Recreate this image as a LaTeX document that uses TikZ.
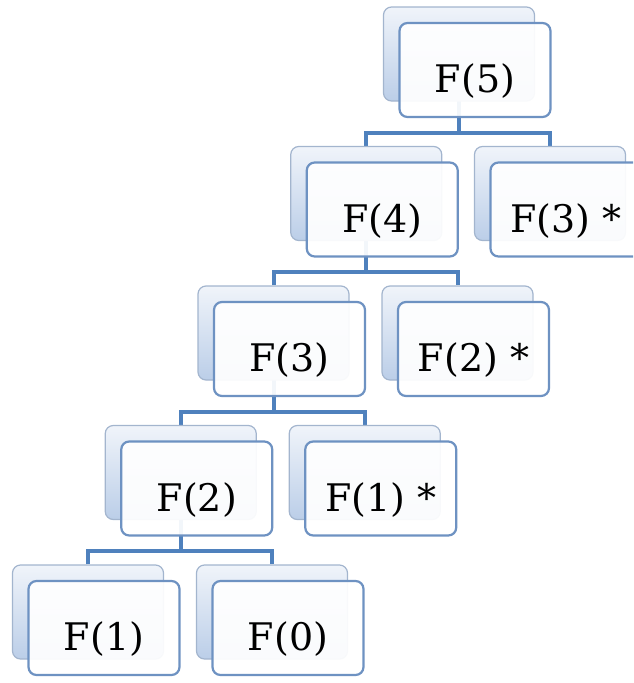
\documentclass[tikz,border=0pt]{standalone}
\usepackage{fontspec}
\setmainfont{DejaVu Serif}
\usetikzlibrary{calc}
\pgfdeclarelayer{links}
\pgfsetlayers{links,main}
\definecolor{linkblue}{HTML}{4F81BD}
\definecolor{frontline}{HTML}{6E92C2}
\definecolor{backline}{HTML}{A3B5CE}
\definecolor{backtop}{HTML}{F0F4FA}
\definecolor{backbot}{HTML}{BBCEE8}
\begin{document}
\begin{tikzpicture}[x=1pt,y=-1pt,
  backbox/.style={draw=backline, line width=1.2pt, rounded corners=8pt,
    top color=backtop, bottom color=backbot,
    minimum width=151pt, minimum height=94pt, inner sep=0pt},
  frontbox/.style={draw=frontline, line width=2.2pt, rounded corners=8pt,
    fill=white, fill opacity=0.93,
    minimum width=151pt, minimum height=94pt, inner sep=0pt},
  fibtext/.style={font=\fontsize{38}{46}\selectfont, anchor=base, inner sep=0pt},
  link/.style={draw=linkblue, line width=4pt, line join=miter},
  fib/.pic={
    \node[backbox] (-back) at (0,0) {};
    \node[frontbox] (-front) at (16,16) {};
    \node[fibtext] (-text) at (16,38.5) {#1};
  }]
\clip (0,0) rectangle (633,683);
\useasboundingbox (0,0) rectangle (633,683);

% call tree, one pic per call, placed by the centre of its back card
\pic (n5)  at (459,54)      {fib={F(5)}};
\pic (n4)  at (366.25,193.5) {fib={F(4)}};
\pic (m3)  at (550,193.5)   {fib={F(3) *}};
\pic (n3)  at (273.5,333)   {fib={F(3)}};
\pic (m2)  at (457.5,333)   {fib={F(2) *}};
\pic (n2)  at (180.75,472.5) {fib={F(2)}};
\pic (m1)  at (364.75,472.5) {fib={F(1) *}};
\pic (n1)  at (88,612)      {fib={F(1)}};
\pic (n0)  at (272,612)     {fib={F(0)}};

% heights of the horizontal bars
\coordinate (bar1) at (0,132.5);
\coordinate (bar2) at (0,272);
\coordinate (bar3) at (0,411.5);
\coordinate (bar4) at (0,551);

\begin{pgfonlayer}{links}
  \draw[link] (n5-back.center) -- (n5-back.center |- bar1);
  \draw[link] (n4-back.north) -- (n4-back.north |- bar1) -- (m3-back.north |- bar1) -- (m3-back.north);
  \draw[link] (n4-back.center) -- (n4-back.center |- bar2);
  \draw[link] (n3-back.north) -- (n3-back.north |- bar2) -- (m2-back.north |- bar2) -- (m2-back.north);
  \draw[link] (n3-back.center) -- (n3-back.center |- bar3);
  \draw[link] (n2-back.north) -- (n2-back.north |- bar3) -- (m1-back.north |- bar3) -- (m1-back.north);
  \draw[link] (n2-back.center) -- (n2-back.center |- bar4);
  \draw[link] (n1-back.north) -- (n1-back.north |- bar4) -- (n0-back.north |- bar4) -- (n0-back.north);
\end{pgfonlayer}
\end{tikzpicture}
\end{document}
